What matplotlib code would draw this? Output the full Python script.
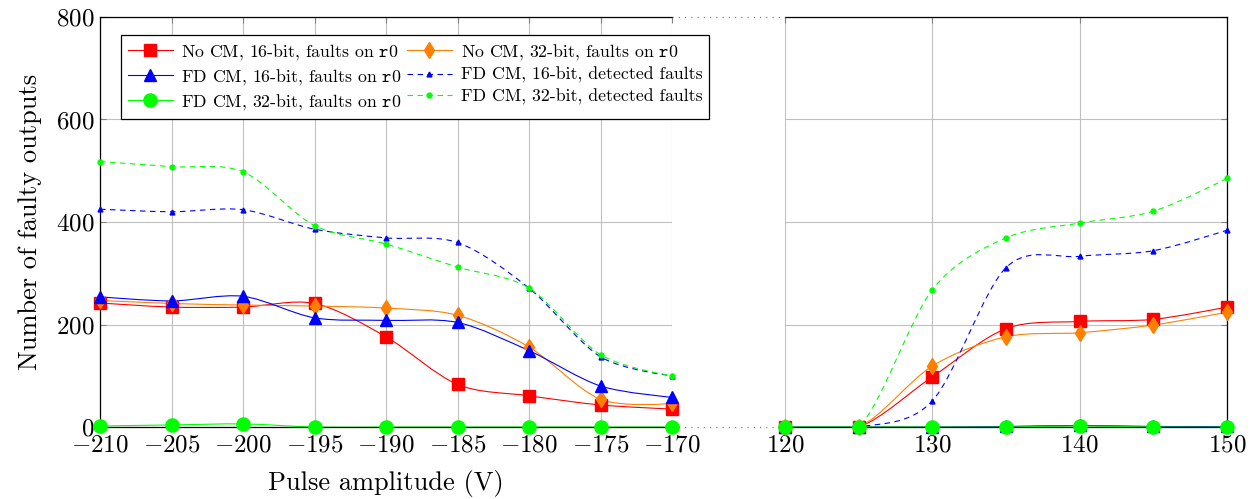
import matplotlib.pyplot as plt
import numpy as np
from matplotlib.path import Path
from matplotlib.patches import PathPatch
from matplotlib.lines import Line2D

plt.rcParams["font.family"] = "cmr10"
plt.rcParams["mathtext.fontset"] = "cm"
plt.rcParams["axes.unicode_minus"] = False

# negative pulse amplitudes
x_neg = [-210, -205, -200, -195, -190, -185, -180, -175, -170]
nocm16_neg = [242, 234, 234, 241, 176, 83, 61, 43, 35]
nocm32_neg = [247, 241, 238, 236, 232, 218, 156, 54, 46]
fd16_neg = [254, 246, 255, 213, 208, 204, 149, 80, 58]
fd16det_neg = [425, 420, 424, 386, 369, 360, 271, 137, 100]
fd32_neg = [2, 4, 6, 0, 0, 0, 0, 0, 0]
fd32det_neg = [518, 508, 498, 393, 357, 312, 271, 141, 100]

# positive pulse amplitudes
x_pos = [120, 125, 130, 135, 140, 145, 150]
nocm16_pos = [0, 0, 98, 192, 206, 210, 234]
nocm32_pos = [0, 0, 119, 176, 184, 199, 224]
fd16_pos = [0, 0, 0, 1, 3, 1, 1]
fd16det_pos = [0, 0, 51, 311, 333, 344, 384]
fd32_pos = [0, 0, 0, 0, 2, 0, 0]
fd32det_pos = [0, 0, 268, 369, 398, 421, 485]

labels = ["No CM, 16-bit, faults on $\\mathtt{r0}$",
          "No CM, 32-bit, faults on $\\mathtt{r0}$",
          "FD CM, 16-bit, faults on $\\mathtt{r0}$",
          "FD CM, 16-bit, detected faults",
          "FD CM, 32-bit, faults on $\\mathtt{r0}$",
          "FD CM, 32-bit, detected faults"]

styles = [
    dict(color="#ff0000", ls="-", marker="s", ms=8.5),
    dict(color="#ff8000", ls="-", marker="d", ms=8.5),
    dict(color="#0000ff", ls="-", marker="^", ms=8.5),
    dict(color="#0000ff", ls=(0, (5, 4)), marker="^", ms=3.5),
    dict(color="#00ff00", ls="-", marker="o", ms=9.5),
    dict(color="#00ff00", ls=(0, (5, 4)), marker="o", ms=3.5),
]


def smooth(ax, xs, ys, st, k=0.153):
    p = np.column_stack([xs, ys]).astype(float)
    n = len(p)
    verts = [p[0]]
    codes = [Path.MOVETO]
    for i in range(n - 1):
        c1 = p[i] if i == 0 else p[i] + k * (p[i + 1] - p[i - 1])
        c2 = p[i + 1] if i == n - 2 else p[i + 1] - k * (p[i + 2] - p[i])
        verts += [c1, c2, p[i + 1]]
        codes += [Path.CURVE4] * 3
    patch = PathPatch(Path(verts, codes), fill=False, edgecolor=st["color"],
                      lw=0.8, linestyle=st["ls"])
    ax.add_patch(patch)
    ax.plot(xs, ys, ls="none", marker=st["marker"], ms=st["ms"],
            color=st["color"], mec=st["color"], clip_on=False, zorder=3)


fig = plt.figure(figsize=(12.53, 4.99), dpi=100)
ax1 = fig.add_axes([100 / 1253, 72 / 499, 572 / 1253, 410 / 499])
ax2 = fig.add_axes([785 / 1253, 72 / 499, 442 / 1253, 410 / 499])

neg = [nocm16_neg, nocm32_neg, fd16_neg, fd16det_neg, fd32_neg, fd32det_neg]
pos = [nocm16_pos, nocm32_pos, fd16_pos, fd16det_pos, fd32_pos, fd32det_pos]
for ys, st in zip(neg, styles):
    smooth(ax1, x_neg, ys, st)
for ys, st in zip(pos, styles):
    smooth(ax2, x_pos, ys, st)

ax1.set_xlim(-210, -170)
ax2.set_xlim(120, 150)
for ax in (ax1, ax2):
    ax.set_ylim(0, 800)
    ax.set_yticks([0, 200, 400, 600, 800])
    ax.grid(True, color="#c0c0c0", lw=0.8)
    ax.set_axisbelow(True)
    ax.tick_params(direction="in", length=4, color="#808080", labelsize=18,
                   top=True, right=True)
    ax.tick_params(axis="x", pad=5)
    ax.tick_params(axis="y", pad=4)
    for s in ax.spines.values():
        s.set_linewidth(0.9)

ax1.set_xticks(x_neg)
ax1.set_xticklabels(["$%d$" % v for v in x_neg])
ax1.set_yticklabels(["$%d$" % v for v in [0, 200, 400, 600, 800]])
ax1.spines["right"].set_visible(False)
ax1.tick_params(right=False)
ax2.set_xticks([120, 130, 140, 150])
ax2.set_xticklabels(["$%d$" % v for v in [120, 130, 140, 150]])
ax2.set_yticklabels([])
ax2.spines["left"].set_visible(False)
ax2.tick_params(left=False)

# dotted connectors between the two panels
for yy in (17, 427):
    fig.add_artist(Line2D([672 / 1253, 785 / 1253], [1 - yy / 499, 1 - yy / 499],
                          color="#808080", lw=0.9, ls=(0, (1, 4))))

ax1.set_ylabel("Number of faulty outputs", fontsize=19, labelpad=10)
ax1.set_xlabel("Pulse amplitude (V)", fontsize=19, labelpad=10)

handles = [Line2D([], [], color=st["color"], ls=st["ls"], lw=0.8,
                  marker=st["marker"], ms=st["ms"], mec=st["color"])
           for st in styles]
order = [0, 2, 4, 1, 3, 5]
leg = fig.legend([handles[i] for i in order], [labels[i] for i in order],
                 ncol=2, loc="upper left",
                 bbox_to_anchor=(121 / 1253, 1 - 35 / 499),
                 fontsize=12.8, frameon=True, fancybox=False,
                 edgecolor="black", framealpha=1, borderaxespad=0,
                 handlelength=2.5, columnspacing=0.3, handletextpad=0.5,
                 labelspacing=0.28, borderpad=0.4)
leg.get_frame().set_linewidth(0.9)

fig.savefig("out.png", dpi=100)
